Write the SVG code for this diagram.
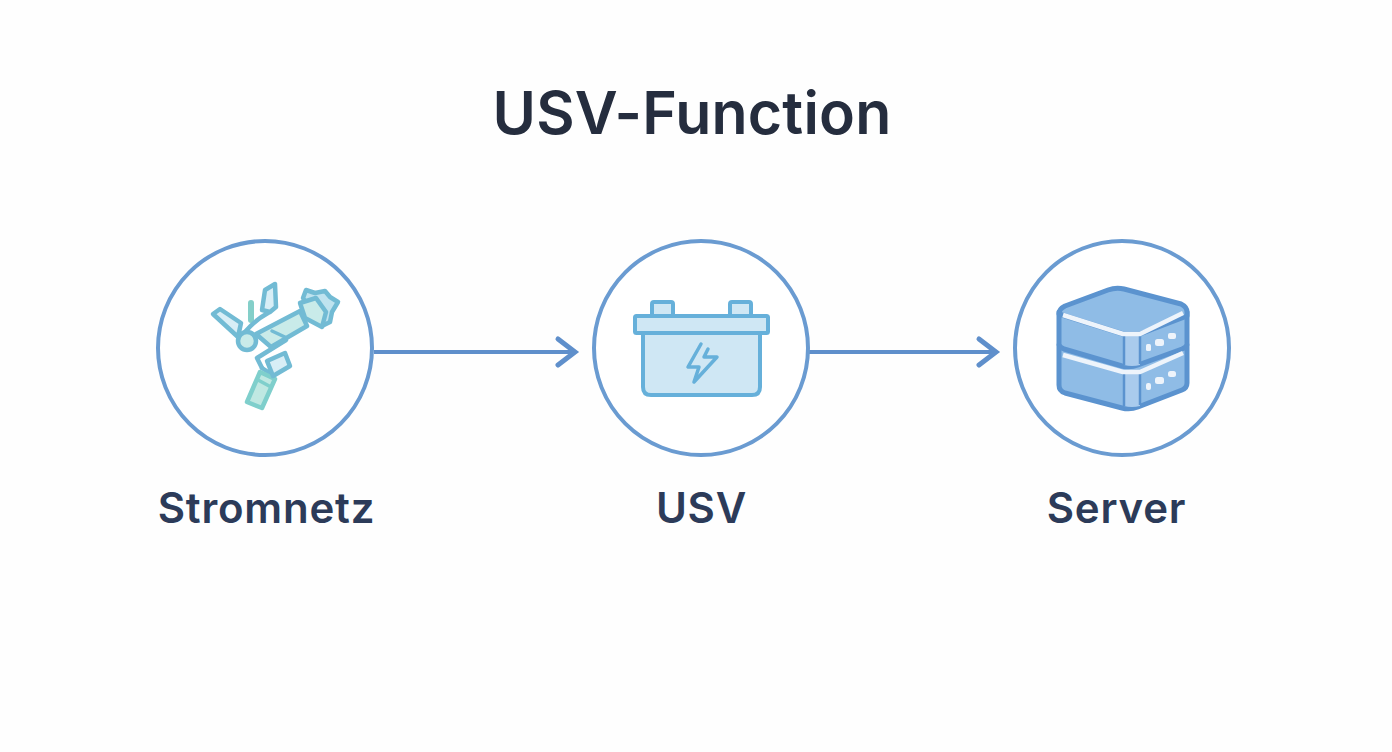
<svg xmlns="http://www.w3.org/2000/svg" width="1392" height="752" viewBox="0 0 1392 752">
<defs>
<style>
.ring{fill:#fff;stroke:#6a9bd1;stroke-width:4}
.conn{fill:none;stroke:#5f8fcb;stroke-width:4}
.head{fill:none;stroke:#5f8fcb;stroke-width:5;stroke-linecap:round;stroke-linejoin:miter}
.title{font:600 59px Inter,"Liberation Sans",sans-serif;fill:#252d3e;text-anchor:middle;letter-spacing:.2px}
.label{font:600 42px Inter,"Liberation Sans",sans-serif;fill:#2c3b59;text-anchor:middle;letter-spacing:.8px}
.g{stroke:#72bbd4;stroke-width:4.500;stroke-linejoin:round;stroke-linecap:round}
.b{fill:#cfe7f4;stroke:#66b0da;stroke-width:4;stroke-linejoin:round;stroke-linecap:round}
.s{fill:#8fbce6;stroke:#5b93cf;stroke-width:5;stroke-linejoin:round}
.w{fill:none;stroke:#eef4fb;stroke-width:4.500;stroke-linejoin:round}
.d{fill:#eef4fb}
</style>
</defs>
<rect width="1392" height="752" fill="#fefefe"/>
<text class="title" x="692" y="133.500">USV-Function</text>
<g id="connectors">
<line class="conn" x1="374" y1="352" x2="574" y2="352"/>
<path class="head" d="M558 339L575 352L558 365"/>
<line class="conn" x1="809" y1="352" x2="995" y2="352"/>
<path class="head" d="M979 339L996 352L979 365"/>
</g>
<g id="stromnetz">
<circle class="ring" cx="265" cy="348" r="107"/>
<g class="g">
<path d="M213 314L220 309L241 323L238 337Z" fill="#d8eef6"/>
<path d="M262 310L265 290L275 284L276 307L270 312Z" fill="#d8eef6"/>
<path d="M251 303V320" fill="none" stroke="#84cfc9" stroke-width="6"/>
<path d="M245 332Q255 320 268 313" fill="none"/>
<path d="M303 298L306 290L315 293L325 291L330 297L338 302L332 312L330 322L322 326Z" fill="#bfe3ef"/>
<path d="M256 334L300 311L307 326L271 347Z" fill="#c9ebe9"/>
<path d="M272 331L287 338" fill="none" stroke-width="3.500"/>
<path d="M300 303L316 298L326 312L322 327L305 318Z" fill="#c9ebe9"/>
<circle cx="247" cy="341" r="9" fill="#c9ebe9"/>
<path d="M286 340L257 358L262 368" fill="none"/>
<path d="M262 368L274 376" fill="none"/>
<path d="M260 372L275 379L262 408L247 402Z" fill="#bfe8e2" stroke="#7fcfcc"/>
<path d="M258 380L271 387" fill="none" stroke="#7fcfcc" stroke-width="3.500"/>
<path d="M267 361L285 353L290 366L273 376Z" fill="#d8eef6"/>
</g>
</g>
<g id="usv">
<circle class="ring" cx="701" cy="348" r="107"/>
<rect class="b" x="652" y="302" width="21" height="16" rx="2"/>
<rect class="b" x="730" y="302" width="21" height="16" rx="2"/>
<path class="b" d="M643 333H760V387Q760 395 752 395H651Q643 395 643 387Z"/>
<rect class="b" x="635" y="316" width="133" height="17" rx="1.500" fill="#d8edf7"/>
<path d="M701 344L688 367H699L694 382L717 357H704L708 349" fill="none" stroke="#66b0da" stroke-width="3.500" stroke-linejoin="round" stroke-linecap="round"/>
</g>
<g id="server">
<circle class="ring" cx="1122" cy="348" r="107"/>
<path class="s" d="M1059 345V385Q1059 391 1065 393L1122 408Q1130 410 1138 407L1182 390Q1187 388 1187 383V345Z"/>
<path class="s" d="M1059 312V344Q1059 347 1064 349L1122 366Q1130 368 1138 365L1182 349Q1187 347 1187 344V312Z"/>
<path class="s" fill="#93bde8" d="M1065 306L1108 290Q1116 287 1124 289L1181 304Q1187 307 1187 312V316L1140 334H1123L1059 314Q1059 309 1065 306Z"/>
<path d="M1124 335H1140V365Q1132 367 1124 365Z" fill="#a9cbed"/>
<path d="M1124 373H1140V406Q1132 408 1124 406Z" fill="#a9cbed"/>
<path d="M1124 335V365M1140 335V364M1124 373V406M1140 373V405" fill="none" stroke="#5b93cf" stroke-width="2.500"/>
<path class="w" d="M1063 315L1123 334H1140L1183 313"/>
<path class="w" d="M1063 355L1123 372H1140L1183 353"/>
<rect class="d" x="1146" y="344" width="5" height="7" rx="1.500"/><rect class="d" x="1155" y="339" width="9" height="7" rx="2.500"/><rect class="d" x="1168" y="333" width="8" height="6" rx="2"/>
<rect class="d" x="1146" y="383" width="5" height="7" rx="2"/><rect class="d" x="1155" y="377" width="9" height="7" rx="2.500"/><rect class="d" x="1168" y="371" width="8" height="6" rx="2.500"/>
</g>
<text class="label" x="266.500" y="523">Stromnetz</text>
<text class="label" x="701.500" y="523">USV</text>
<text class="label" x="1116.500" y="523">Server</text>
</svg>
